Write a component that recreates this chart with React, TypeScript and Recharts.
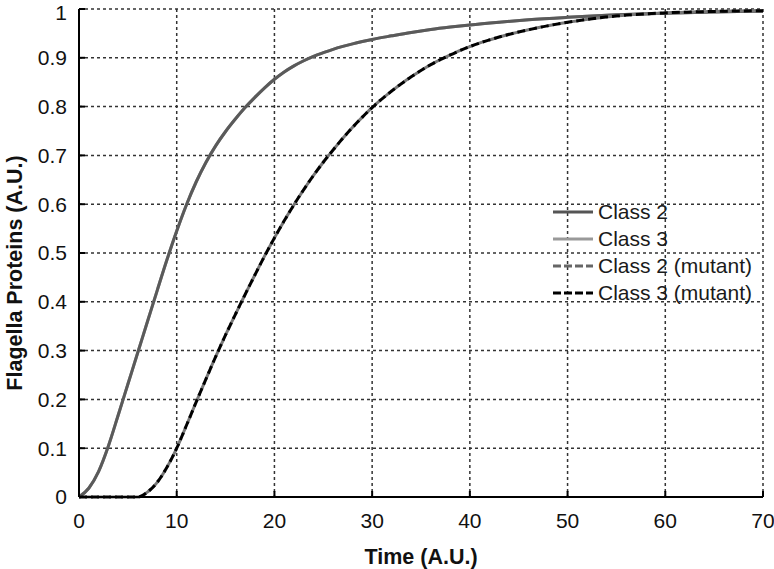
import { LineChart, Line, CartesianGrid, XAxis, YAxis, Legend } from 'recharts';

// time points (A.U.)
const time = [0, 1, 2, 3, 4, 5, 6, 7, 8, 9, 10, 11, 12, 13, 14, 15, 16, 17, 18, 19, 20, 21, 22, 23, 24, 25, 26, 27, 28, 29, 30, 32, 34, 36, 38, 40, 43, 46, 50, 55, 60, 65, 70];

const classTwo = [0, 0.018, 0.052, 0.104, 0.167, 0.231, 0.295, 0.359, 0.423, 0.486, 0.545, 0.599, 0.646, 0.686, 0.72, 0.749, 0.7745, 0.798, 0.819, 0.8385, 0.856, 0.871, 0.8835, 0.894, 0.903, 0.9105, 0.9174, 0.9233, 0.9286, 0.9333, 0.9376, 0.945, 0.952, 0.958, 0.963, 0.9674, 0.973, 0.978, 0.983, 0.988, 0.9915, 0.994, 0.9955];
// class 3 sits right on top of class 2 in the figure
const classThree = [0, 0.018, 0.052, 0.104, 0.167, 0.231, 0.295, 0.359, 0.423, 0.486, 0.545, 0.599, 0.646, 0.686, 0.72, 0.749, 0.7745, 0.798, 0.819, 0.8385, 0.856, 0.871, 0.8835, 0.894, 0.903, 0.9105, 0.9174, 0.9233, 0.9286, 0.9333, 0.9376, 0.945, 0.952, 0.958, 0.963, 0.9674, 0.973, 0.978, 0.983, 0.988, 0.9915, 0.994, 0.9955];

const classTwoMutant = [0, 0, 0, 0, 0, 0, 0, 0.01, 0.03, 0.061, 0.1, 0.147, 0.195, 0.242, 0.288, 0.332, 0.374, 0.415, 0.455, 0.494, 0.531, 0.566, 0.599, 0.63, 0.659, 0.686, 0.711, 0.735, 0.7575, 0.7785, 0.798, 0.832, 0.861, 0.886, 0.906, 0.923, 0.9425, 0.9575, 0.9727, 0.9857, 0.992, 0.995, 0.9965];
const classThreeMutant = [0, 0, 0, 0, 0, 0, 0, 0.01, 0.03, 0.061, 0.1, 0.147, 0.195, 0.242, 0.288, 0.332, 0.374, 0.415, 0.455, 0.494, 0.531, 0.566, 0.599, 0.63, 0.659, 0.686, 0.711, 0.735, 0.7575, 0.7785, 0.798, 0.832, 0.861, 0.886, 0.906, 0.923, 0.9425, 0.9575, 0.9727, 0.9857, 0.992, 0.995, 0.9965];

const xTicks = [0, 10, 20, 30, 40, 50, 60, 70];
const yTicks = [0, 0.1, 0.2, 0.3, 0.4, 0.5, 0.6, 0.7, 0.8, 0.9, 1];

const data = time.map((t, i) => ({
  t,
  c2: classTwo[i],
  c3: classThree[i],
  c2m: classTwoMutant[i],
  c3m: classThreeMutant[i],
}));

const FONT = 'Arial, "Liberation Sans", sans-serif';

const legendRows = [
  { name: 'Class 2', color: '#555', dash: undefined },
  { name: 'Class 3', color: '#999', dash: undefined },
  { name: 'Class 2 (mutant)', color: '#666', dash: '8 3' },
  { name: 'Class 3 (mutant)', color: '#000', dash: '8 3' },
];

function LegendBox() {
  return (
    <div style={{ fontFamily: FONT, fontSize: 21, color: '#1a1a1a', lineHeight: '27px' }}>
      {legendRows.map((r) => (
        <div key={r.name} style={{ display: 'flex', alignItems: 'center', height: 27 }}>
          <svg width={44} height={10} style={{ marginRight: 1 }}>
            <line x1={0} y1={5} x2={40} y2={5} stroke={r.color} strokeWidth={3} strokeDasharray={r.dash} />
          </svg>
          <span>{r.name}</span>
        </div>
      ))}
    </div>
  );
}

// the y title sits a little below the middle of the plot in the original
function YLabel(props: any) {
  const vb = props.viewBox;
  const cy = vb.y + vb.height / 2 + 20;
  return (
    <text
      x={15}
      y={cy}
      transform={`rotate(-90, 15, ${cy})`}
      textAnchor="middle"
      dominantBaseline="central"
      fontFamily={FONT}
      fontSize={21.5}
      fontWeight="bold"
      fill="#111"
    >
      Flagella Proteins (A.U.)
    </text>
  );
}

const tickStyle = { fill: '#111', fontSize: 21, fontFamily: FONT };
const axisLine = { stroke: '#000', strokeWidth: 2 };
const tickLine = { stroke: '#000', strokeWidth: 2 };

export default function App() {
  return (
    <div style={{ position: 'absolute', left: 0, top: 0, background: '#fff' }}>
      <LineChart width={774} height={569} data={data} margin={{ top: 9, right: 11, bottom: 0, left: 0 }}>
        <CartesianGrid stroke="#333" strokeWidth={1.5} strokeDasharray="3 3" />
        <XAxis
          dataKey="t"
          type="number"
          domain={[0, 70]}
          ticks={xTicks}
          height={72}
          tick={tickStyle}
          tickSize={-6}
          tickMargin={22}
          axisLine={axisLine}
          tickLine={tickLine}
          label={{ value: 'Time (A.U.)', position: 'insideBottom', offset: 5, fontSize: 21.5, fontWeight: 'bold', fill: '#111', fontFamily: FONT }}
        />
        <XAxis
          xAxisId="top"
          orientation="top"
          dataKey="t"
          type="number"
          domain={[0, 70]}
          ticks={xTicks}
          height={0}
          tick={false}
          tickSize={-6}
          axisLine={axisLine}
          tickLine={tickLine}
        />
        <YAxis
          type="number"
          domain={[0, 1]}
          ticks={yTicks}
          width={79}
          tick={tickStyle}
          tickSize={-6}
          tickMargin={18}
          axisLine={axisLine}
          tickLine={tickLine}
          label={<YLabel />}
        />
        <YAxis
          yAxisId="right"
          orientation="right"
          type="number"
          domain={[0, 1]}
          ticks={yTicks}
          width={0}
          tick={false}
          tickSize={-6}
          axisLine={axisLine}
          tickLine={tickLine}
        />
        <Legend
          layout="vertical"
          align="center"
          verticalAlign="middle"
          content={<LegendBox />}
          wrapperStyle={{ left: 553, top: 198, width: 'auto' }}
        />
        <Line type="monotone" dataKey="c3" name="Class 3" stroke="#999" strokeWidth={3} dot={false} isAnimationActive={false} />
        <Line type="monotone" dataKey="c2" name="Class 2" stroke="#5a5a5a" strokeWidth={3} dot={false} isAnimationActive={false} />
        <Line type="monotone" dataKey="c2m" name="Class 2 (mutant)" stroke="#777" strokeWidth={3} strokeDasharray="8 4" strokeDashoffset={6} dot={false} isAnimationActive={false} />
        <Line type="monotone" dataKey="c3m" name="Class 3 (mutant)" stroke="#000" strokeWidth={3} strokeDasharray="8 4" dot={false} isAnimationActive={false} />
      </LineChart>
    </div>
  );
}
